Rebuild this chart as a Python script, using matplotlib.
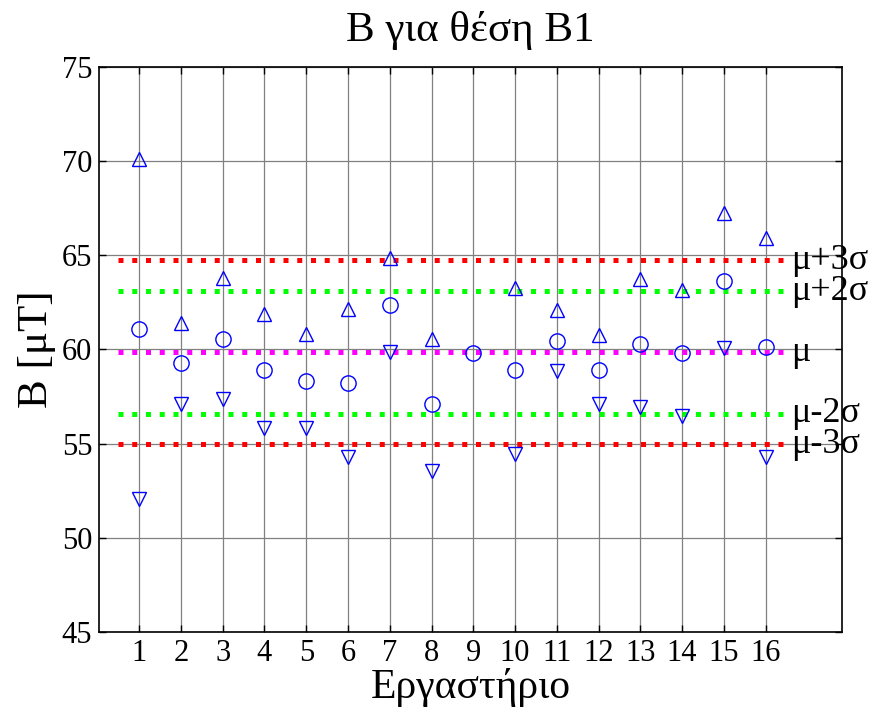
import numpy as np
import matplotlib
matplotlib.use("Agg")
import matplotlib.pyplot as plt

plt.rcParams['font.family'] = ['Liberation Serif', 'DejaVu Serif']

# =========================================
# DATA
# =========================================
labs = np.arange(1, 17)
b_max = [70.1, 61.4, 63.8, 61.9, 60.8, 62.15, 64.87, 60.54, np.nan, 63.28,
         62.09, 60.77, 63.73, 63.16, 67.26, 65.9]
b_mean = [61.09, 59.26, 60.54, 58.91, 58.34, 58.2, 62.36, 57.1, 59.83, 58.91,
          60.47, 58.91, 60.29, 59.83, 63.65, 60.15]
b_min = [52.06, 57.12, 57.38, 55.85, 55.85, 54.3, 59.85, 53.54, np.nan, 54.46,
         58.86, 57.12, 56.94, 56.48, 60.09, 54.27]

mu = 59.84
sigma = 1.63
ref_names = ['μ+3σ', 'μ+2σ', 'μ', 'μ-2σ', 'μ-3σ']
ref_k = [3, 2, 0, -2, -3]
ref_colors = ['#ff0000', '#00ff00', '#ff00ff', '#00ff00', '#ff0000']

# =========================================
# PLOT
# =========================================
fig = plt.figure(figsize=(8.85, 7.18), dpi=100)
ax = fig.add_axes([0.112, 0.12, 0.839, 0.7867])

for name, k, c in zip(ref_names, ref_k, ref_colors):
    yv = mu + k * sigma
    ax.plot([0.5, 16.5], [yv, yv], color=c, lw=3.6, linestyle=(0, (1, 1.75)),
            dash_capstyle='butt', zorder=2)
    ax.text(16.62, yv, name, fontsize=26, va='center', ha='left', zorder=5)

ax.plot(labs, b_max, linestyle='none', marker='^', ms=10, mfc='none',
        mec='#0000ff', mew=1.0, zorder=3)
ax.plot(labs, b_mean, linestyle='none', marker='o', ms=11, mfc='none',
        mec='#0000ff', mew=1.0, zorder=3)
ax.plot(labs, b_min, linestyle='none', marker='v', ms=10, mfc='none',
        mec='#0000ff', mew=1.0, zorder=3)

ax.set_xlim(0.04, 17.82)
ax.set_ylim(45, 75)
ax.set_xticks(labs)
ax.set_yticks(np.arange(45, 76, 5))
ax.grid(True, color='#808080', lw=0.9)
ax.set_axisbelow(True)
ax.tick_params(direction='in', top=True, right=True, length=5, width=1,
               labelsize=22, pad=5)
for s in ax.spines.values():
    s.set_linewidth(1.2)

ax.set_title('B για θέση B1', fontsize=31, pad=19)
ax.set_xlabel('Εργαστήριο', fontsize=30, labelpad=0)
ax.set_ylabel('B [μT]', fontsize=31, labelpad=4)

fig.savefig('out.png', dpi=100)
